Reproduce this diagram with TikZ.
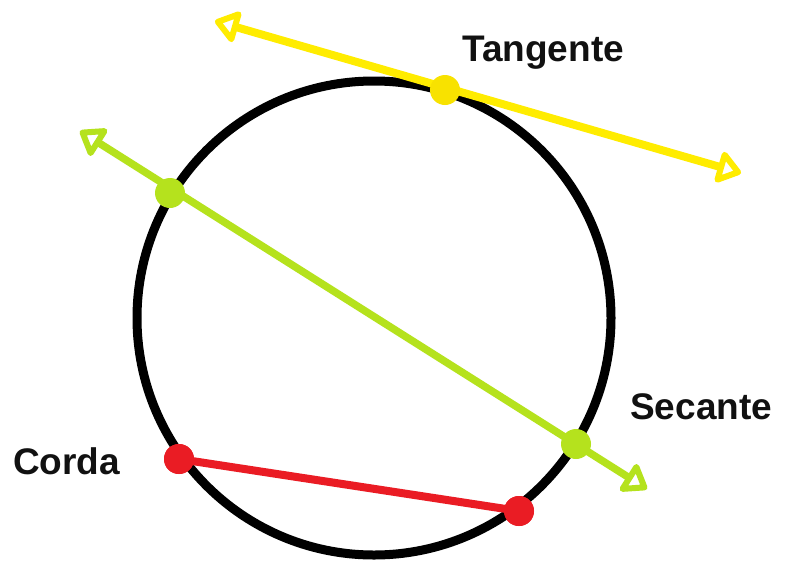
\documentclass[tikz,border=0pt]{standalone}
\usepackage{fontspec}
\setmainfont{Liberation Sans}
\usetikzlibrary{arrows.meta}
\definecolor{ylw}{RGB}{255,236,0}
\definecolor{ylwdot}{RGB}{248,226,0}
\definecolor{lime}{RGB}{181,226,29}
\definecolor{rd}{RGB}{234,28,36}
\definecolor{txt}{RGB}{17,17,17}
\tikzset{
  lbl/.style={inner sep=0pt, font=\bfseries\fontsize{37}{44}\selectfont, text=txt},
  dot/.style={circle, inner sep=0pt, minimum size=30pt, fill=#1},
  bothopen/.style={{Triangle[open,round,length=26pt,width=36pt,line width=6pt]}-{Triangle[open,round,length=26pt,width=36pt,line width=6pt]}}
}
\begin{document}
\begin{tikzpicture}[x=1pt,y=-1pt]
\useasboundingbox[fill=white] (0,0) rectangle (790,560);
% circle
\draw[line width=9pt, black] (374,318) circle[radius=237];
% tangent
\coordinate (t1) at (215,21);
\coordinate (t2) at (741,173);
\draw[bothopen, line width=8pt, ylw, line cap=round] (t1) -- (t2);
% secant
\coordinate (s1) at (80,131);
\coordinate (s2) at (647,489);
\draw[bothopen, line width=7.5pt, lime, line cap=round] (s1) -- (s2);
% chord dots
\node[dot=rd] (c1) at (179,459) {};
\node[dot=rd] (c2) at (519,511) {};
\draw[line width=8pt, rd] (c1.center) -- (c2.center);
\node[dot=rd] at (c1) {};
\node[dot=rd] at (c2) {};
% other dots
\node[dot=ylwdot] (tp) at (445,90) {};
\node[dot=lime] (sp1) at (170,193) {};
\node[dot=lime] (sp2) at (576,444) {};
% labels
\node[lbl, anchor=base west] (ltan) at (462,61) {Tangente};
\node[lbl, anchor=base west] (lsec) at (630,419) {Secante};
\node[lbl, anchor=base west] (lcor) at (13,474) {Corda};
\end{tikzpicture}
\end{document}
